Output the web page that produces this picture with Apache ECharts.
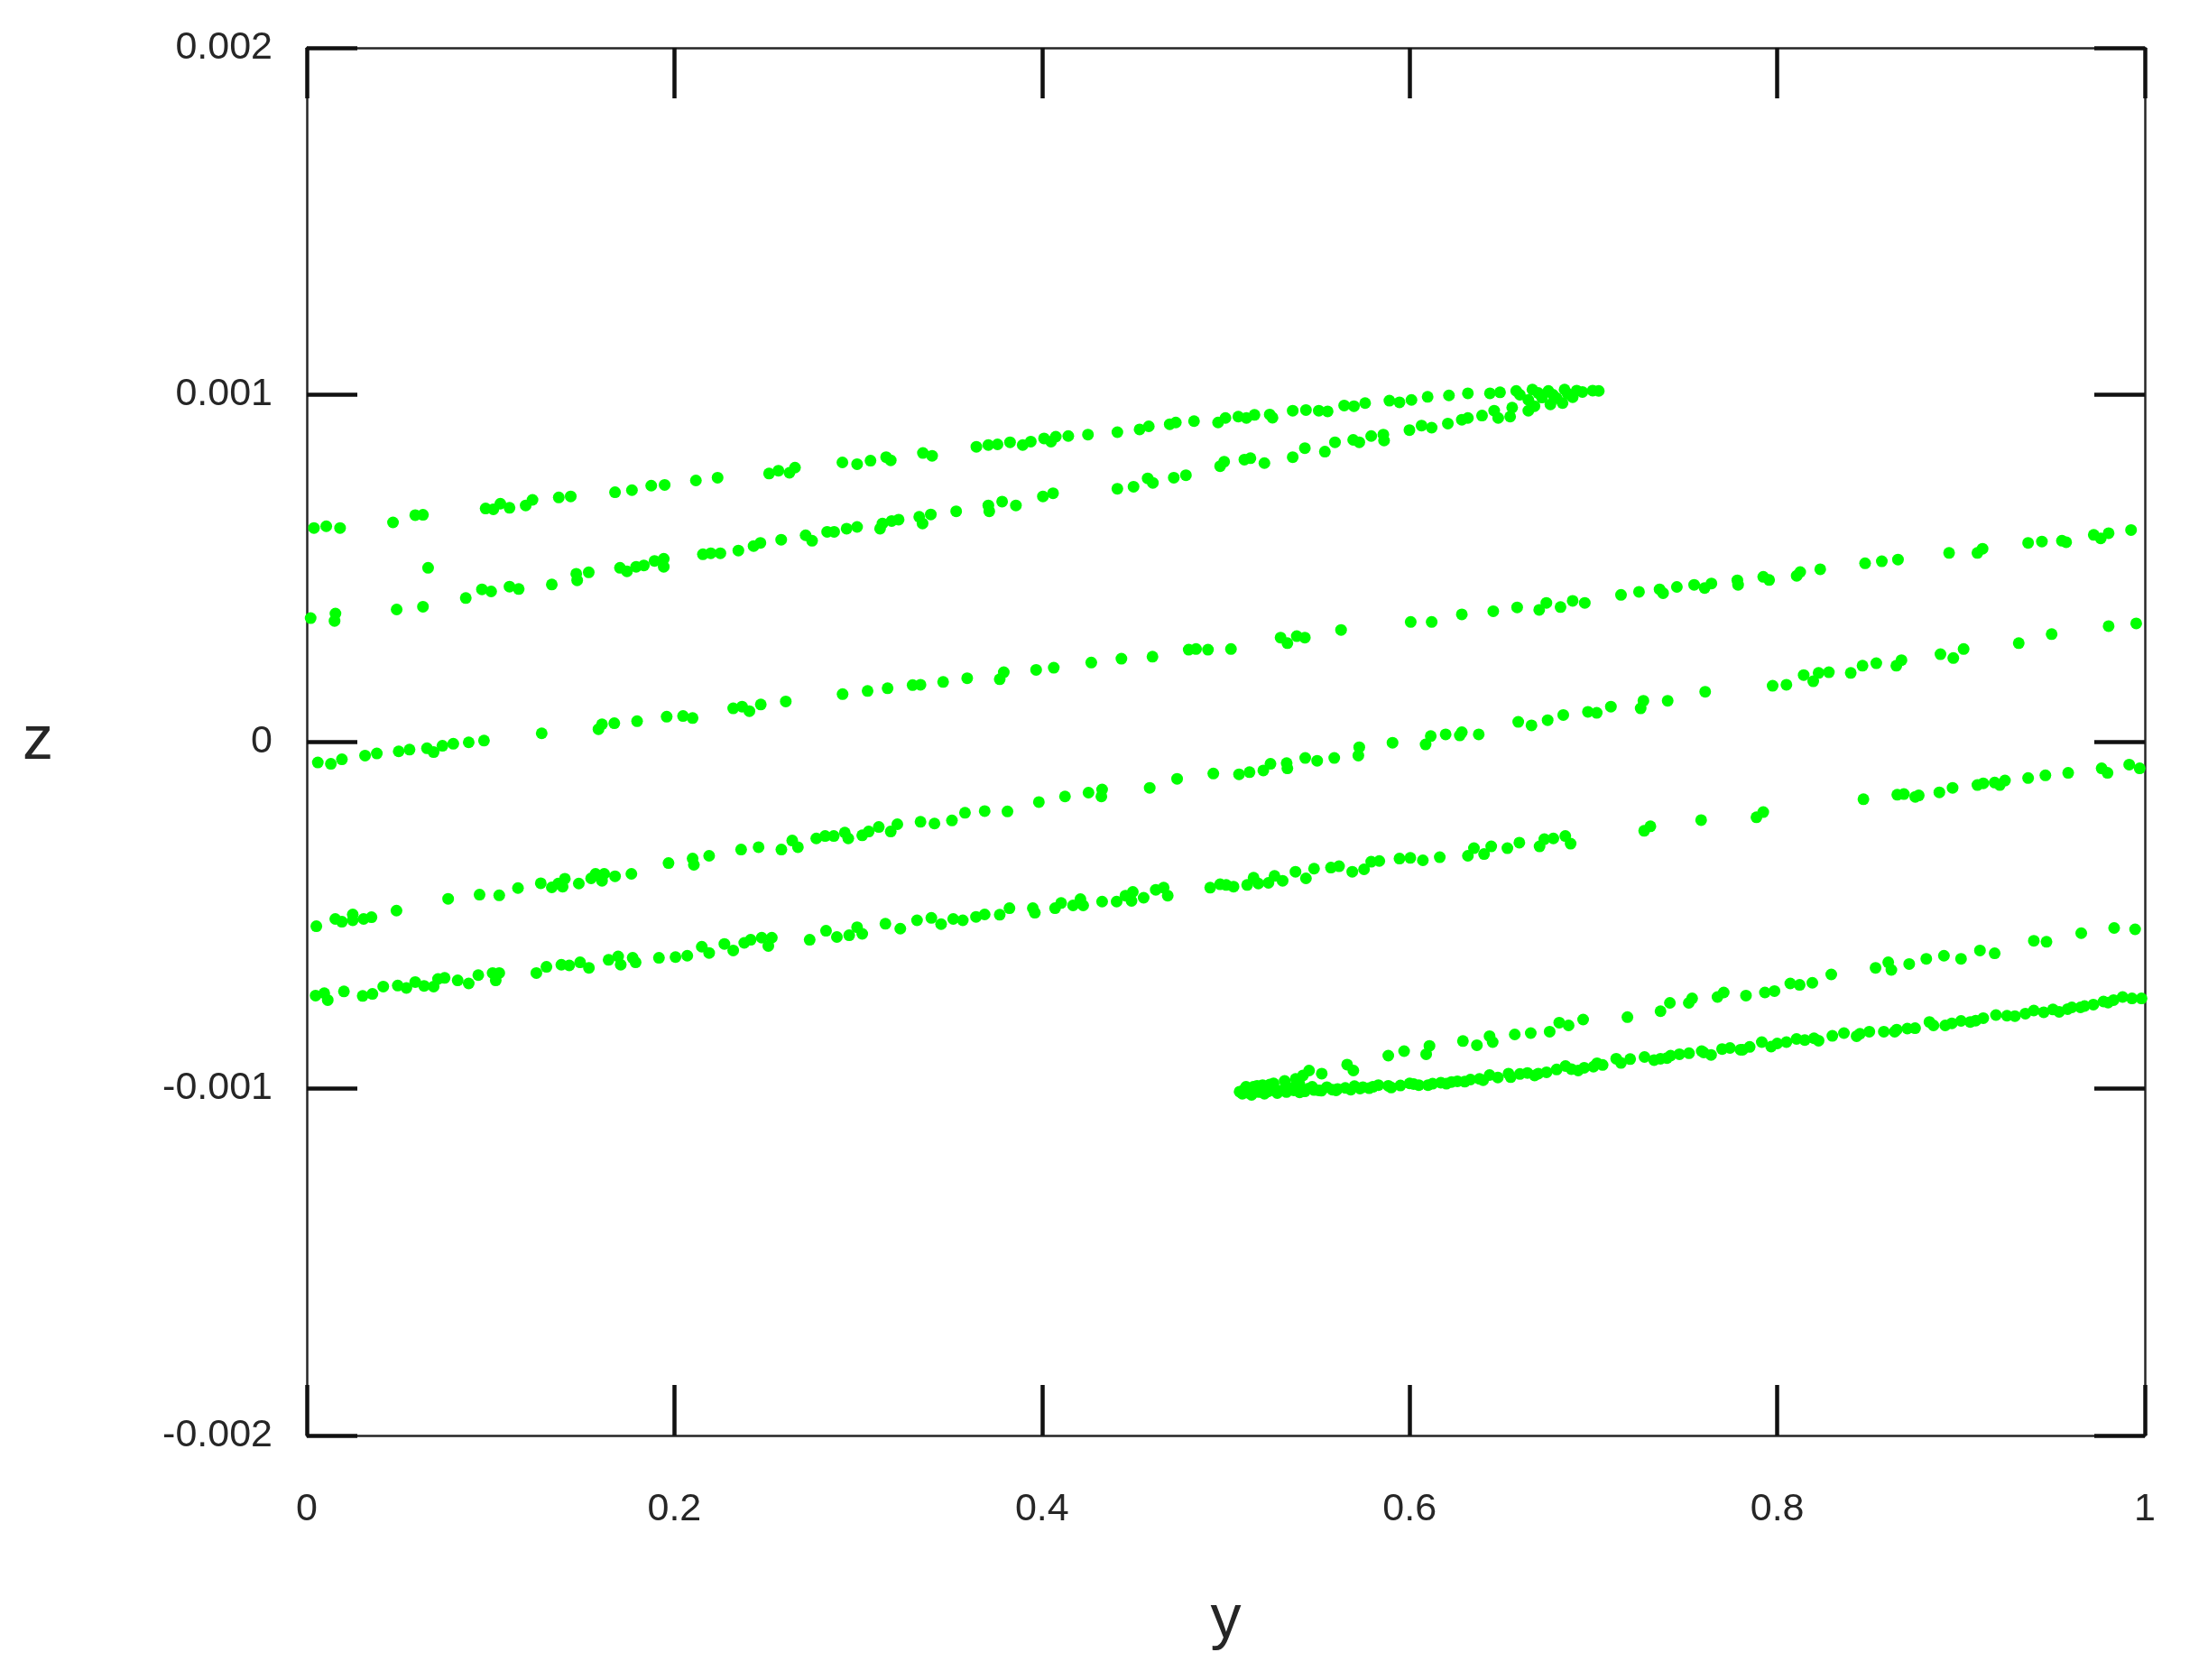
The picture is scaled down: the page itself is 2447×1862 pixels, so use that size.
<!DOCTYPE html>
<html>
<head>
<meta charset="utf-8">
<script src="https://cdn.jsdelivr.net/npm/echarts/dist/echarts.min.js"></script>
<style>
html,body{margin:0;padding:0;background:#ffffff;}
#chart{width:2447px;height:1862px;}
</style>
</head>
<body>
<div id="chart"></div>
<script>
// Axis ticks
const yTicksHoriz = [0, 0.2, 0.4, 0.6, 0.8, 1];
const zTicks = [-0.002, -0.001, 0, 0.001, 0.002];

// Upper branch of the top pair (y, z)
const bandA = [
[0.0039,0.616e-3],[0.0106,0.621e-3],[0.0181,0.616e-3],[0.0469,0.632e-3],[0.0590,0.653e-3],[0.0632,0.654e-3],
[0.0973,0.672e-3],[0.1015,0.670e-3],[0.1053,0.686e-3],[0.1103,0.674e-3],[0.1191,0.681e-3],[0.1228,0.697e-3],
[0.1371,0.704e-3],[0.1436,0.707e-3],[0.1677,0.719e-3],[0.1769,0.725e-3],[0.1874,0.738e-3],[0.1947,0.740e-3],
[0.2117,0.753e-3],[0.2235,0.761e-3],[0.2515,0.773e-3],[0.2566,0.781e-3],[0.2626,0.775e-3],[0.2656,0.790e-3],
[0.2914,0.805e-3],[0.2994,0.800e-3],[0.3067,0.810e-3],[0.3152,0.820e-3],[0.3177,0.811e-3],[0.3352,0.832e-3],
[0.3402,0.824e-3],[0.3643,0.850e-3],[0.3708,0.855e-3],[0.3758,0.857e-3],[0.3826,0.863e-3],[0.3895,0.855e-3],
[0.3939,0.865e-3],[0.4011,0.874e-3],[0.4049,0.865e-3],[0.4075,0.879e-3],[0.4143,0.881e-3],[0.4250,0.885e-3],
[0.4410,0.892e-3],[0.4531,0.900e-3],[0.4581,0.909e-3],[0.4695,0.915e-3],[0.4728,0.920e-3],[0.4827,0.924e-3],
[0.4958,0.920e-3],[0.4998,0.933e-3],[0.5068,0.937e-3],[0.5112,0.933e-3],[0.5156,0.942e-3],[0.5239,0.943e-3],
[0.5254,0.934e-3],[0.5364,0.954e-3],[0.5436,0.956e-3],[0.5506,0.954e-3],[0.5554,0.952e-3],[0.5644,0.969e-3],
[0.5697,0.967e-3],[0.5758,0.976e-3],[0.5890,0.983e-3],[0.5945,0.978e-3],[0.6010,0.985e-3],[0.6098,0.994e-3],
[0.6214,0.998e-3],[0.6317,1.004e-3],[0.6437,1.004e-3],[0.6492,1.007e-3],[0.6580,1.011e-3],[0.6668,1.015e-3],
[0.6755,1.011e-3],[0.6843,1.015e-3],[0.6909,1.012e-3],[0.6996,1.012e-3],[0.7029,1.011e-3],
[0.6600,1.000e-3],[0.6700,1.005e-3],[0.6780,1.000e-3],[0.6860,1.003e-3],[0.6940,1.008e-3],[0.6720,0.992e-3],[0.6800,0.990e-3]
];

// Lower branch of the top pair
const bandB = [
[0.0021,0.356e-3],[0.0156,0.369e-3],[0.0151,0.348e-3],[0.0489,0.381e-3],[0.0632,0.389e-3],[0.0660,0.501e-3],
[0.0865,0.414e-3],[0.0953,0.439e-3],[0.1003,0.433e-3],[0.1103,0.447e-3],[0.1153,0.440e-3],[0.1333,0.453e-3],
[0.1466,0.484e-3],[0.1471,0.465e-3],[0.1534,0.488e-3],[0.1704,0.501e-3],[0.1742,0.491e-3],[0.1792,0.504e-3],
[0.1834,0.508e-3],[0.1892,0.521e-3],[0.1942,0.527e-3],[0.1942,0.504e-3],[0.2155,0.540e-3],[0.2198,0.543e-3],
[0.2250,0.543e-3],[0.2348,0.551e-3],[0.2431,0.564e-3],[0.2468,0.573e-3],[0.2581,0.582e-3],[0.2714,0.595e-3],
[0.2749,0.579e-3],[0.2831,0.605e-3],[0.2869,0.605e-3],[0.2937,0.614e-3],[0.2994,0.619e-3],[0.3119,0.614e-3],
[0.3132,0.629e-3],[0.3182,0.636e-3],[0.3220,0.640e-3],[0.3332,0.648e-3],[0.3350,0.629e-3],[0.3395,0.655e-3],
[0.3533,0.664e-3],[0.3708,0.681e-3],[0.3713,0.664e-3],[0.3783,0.692e-3],[0.3858,0.681e-3],
[0.4005,0.707e-3],[0.4060,0.716e-3],[0.4410,0.729e-3],[0.4498,0.735e-3],[0.4575,0.759e-3],[0.4603,0.746e-3],
[0.4717,0.761e-3],[0.4783,0.768e-3],[0.4969,0.794e-3],[0.4991,0.807e-3],[0.5101,0.813e-3],[0.5134,0.817e-3],
[0.5210,0.803e-3],[0.5364,0.820e-3],[0.5430,0.846e-3],[0.5539,0.836e-3],[0.5594,0.863e-3],[0.5693,0.870e-3],
[0.5726,0.863e-3],[0.5791,0.881e-3],[0.5857,0.885e-3],[0.5861,0.868e-3],[0.5999,0.898e-3],[0.6065,0.911e-3],
[0.6120,0.905e-3],[0.6208,0.917e-3],[0.6284,0.928e-3],[0.6317,0.933e-3],[0.6394,0.940e-3],[0.6460,0.954e-3],
[0.6482,0.933e-3],[0.6558,0.963e-3],[0.6547,0.937e-3],[0.6646,0.954e-3],[0.6679,0.967e-3],[0.6766,0.972e-3],
[0.6832,0.976e-3],[0.6887,0.993e-3],[0.6646,0.985e-3]
];

// Long middle line
const bandC = [
[0.0060,-0.060e-3],[0.0131,-0.064e-3],[0.0191,-0.051e-3],[0.0317,-0.040e-3],[0.0381,-0.034e-3],[0.0500,-0.028e-3],
[0.0559,-0.023e-3],[0.0654,-0.019e-3],[0.0690,-0.030e-3],[0.0738,-0.012e-3],[0.0797,-0.006e-3],[0.0881,-0.002e-3],
[0.0964,0.003e-3],[0.1278,0.024e-3],[0.1587,0.036e-3],[0.1606,0.050e-3],[0.1673,0.053e-3],[0.1797,0.059e-3],
[0.1958,0.072e-3],[0.2047,0.074e-3],[0.2099,0.068e-3],[0.2320,0.096e-3],[0.2368,0.101e-3],[0.2408,0.088e-3],
[0.2470,0.107e-3],[0.2606,0.116e-3],[0.2915,0.137e-3],[0.3051,0.146e-3],[0.3160,0.154e-3],[0.3296,0.163e-3],
[0.3339,0.164e-3],[0.3462,0.172e-3],[0.3593,0.183e-3],[0.3770,0.180e-3],[0.3792,0.200e-3],[0.3968,0.207e-3],
[0.4064,0.213e-3],[0.4268,0.228e-3],[0.4432,0.239e-3],[0.4601,0.245e-3],[0.4798,0.265e-3],[0.4838,0.267e-3],
[0.4903,0.265e-3],[0.5028,0.267e-3],[0.5298,0.300e-3],[0.5335,0.284e-3],[0.5386,0.304e-3],[0.5430,0.300e-3],
[0.5627,0.322e-3],[0.6006,0.345e-3],[0.6120,0.345e-3],[0.6284,0.367e-3],[0.6455,0.376e-3],[0.6585,0.387e-3],
[0.6705,0.380e-3],[0.6744,0.400e-3],[0.6821,0.388e-3],[0.6887,0.406e-3],[0.6953,0.400e-3],[0.7150,0.423e-3],
[0.7248,0.432e-3],[0.7360,0.439e-3],[0.7379,0.428e-3],[0.7454,0.446e-3],[0.7548,0.452e-3],[0.7605,0.443e-3],
[0.7642,0.456e-3],[0.7783,0.465e-3],[0.7787,0.452e-3],[0.7924,0.475e-3],[0.7956,0.466e-3],[0.8106,0.478e-3],
[0.8125,0.489e-3],[0.8234,0.497e-3],[0.8478,0.514e-3],[0.8569,0.520e-3],[0.8657,0.525e-3],[0.8935,0.544e-3],
[0.9089,0.544e-3],[0.9117,0.556e-3],[0.9365,0.573e-3],[0.9440,0.577e-3],[0.9549,0.579e-3],[0.9572,0.575e-3],
[0.9722,0.596e-3],[0.9760,0.586e-3],[0.9803,0.601e-3],[0.9925,0.610e-3]
];

// Second long line
const bandD = [
[0.0052,-0.532e-3],[0.0155,-0.511e-3],[0.0191,-0.519e-3],[0.0250,-0.498e-3],[0.0250,-0.515e-3],[0.0309,-0.511e-3],
[0.0352,-0.506e-3],[0.0488,-0.487e-3],[0.0769,-0.453e-3],[0.0940,-0.441e-3],[0.1047,-0.443e-3],[0.1149,-0.422e-3],
[0.1273,-0.408e-3],[0.1333,-0.420e-3],[0.1368,-0.409e-3],[0.1404,-0.395e-3],[0.1392,-0.418e-3],[0.1480,-0.409e-3],
[0.1547,-0.394e-3],[0.1571,-0.381e-3],[0.1606,-0.401e-3],[0.1618,-0.381e-3],[0.1677,-0.388e-3],[0.1766,-0.381e-3],
[0.1968,-0.350e-3],[0.2099,-0.337e-3],[0.2106,-0.355e-3],[0.2189,-0.329e-3],[0.2363,-0.311e-3],[0.2458,-0.304e-3],
[0.2582,-0.311e-3],[0.2641,-0.285e-3],[0.2672,-0.304e-3],[0.2772,-0.279e-3],[0.2820,-0.272e-3],[0.2867,-0.272e-3],
[0.2927,-0.262e-3],[0.2946,-0.279e-3],[0.3022,-0.270e-3],[0.3057,-0.259e-3],[0.3112,-0.246e-3],[0.3177,-0.259e-3],
[0.3213,-0.238e-3],[0.3339,-0.231e-3],[0.3415,-0.236e-3],[0.3510,-0.227e-3],[0.3581,-0.205e-3],[0.3688,-0.200e-3],
[0.3812,-0.201e-3],[0.3983,-0.174e-3],[0.4125,-0.158e-3],[0.4253,-0.147e-3],[0.4327,-0.138e-3],[0.4323,-0.158e-3],
[0.4586,-0.133e-3],[0.4735,-0.107e-3],[0.4932,-0.092e-3],[0.5072,-0.094e-3],[0.5129,-0.088e-3],[0.5204,-0.083e-3],
[0.5243,-0.064e-3],[0.5331,-0.062e-3],[0.5335,-0.077e-3],[0.5432,-0.047e-3],[0.5497,-0.055e-3],[0.5590,-0.047e-3],
[0.5726,-0.016e-3],[0.5721,-0.040e-3],[0.5907,-0.003e-3],[0.6087,-0.008e-3],[0.6115,0.016e-3],[0.6196,0.021e-3],
[0.6273,0.018e-3],[0.6284,0.027e-3],[0.6376,0.021e-3],[0.6591,0.057e-3],[0.6663,0.047e-3],[0.6751,0.062e-3],
[0.6836,0.077e-3],[0.6970,0.086e-3],[0.7018,0.083e-3],[0.7095,0.101e-3],[0.7257,0.096e-3],[0.7272,0.118e-3],
[0.7404,0.118e-3],[0.7608,0.144e-3],[0.7975,0.161e-3],[0.8050,0.164e-3],[0.8144,0.192e-3],[0.8196,0.174e-3],
[0.8225,0.198e-3],[0.8281,0.200e-3],[0.8400,0.198e-3],[0.8464,0.219e-3],[0.8539,0.226e-3],[0.8648,0.219e-3],
[0.8676,0.235e-3],[0.8888,0.252e-3],[0.8958,0.241e-3],[0.9014,0.267e-3],[0.9314,0.284e-3],[0.9493,0.310e-3],
[0.9803,0.333e-3],[0.9953,0.341e-3]
];

// Third long line
const bandE = [
[0.0048,-0.732e-3],[0.0095,-0.725e-3],[0.0114,-0.745e-3],[0.0202,-0.720e-3],[0.0304,-0.733e-3],[0.0357,-0.727e-3],
[0.0416,-0.706e-3],[0.0495,-0.703e-3],[0.0542,-0.710e-3],[0.0590,-0.693e-3],[0.0638,-0.704e-3],[0.0690,-0.706e-3],
[0.0714,-0.684e-3],[0.0750,-0.681e-3],[0.0821,-0.688e-3],[0.0881,-0.697e-3],[0.0933,-0.673e-3],[0.1011,-0.667e-3],
[0.1028,-0.688e-3],[0.1047,-0.667e-3],[0.1249,-0.667e-3],[0.1304,-0.649e-3],[0.1385,-0.643e-3],[0.1428,-0.645e-3],
[0.1487,-0.636e-3],[0.1535,-0.652e-3],[0.1642,-0.629e-3],[0.1694,-0.619e-3],[0.1708,-0.643e-3],[0.1773,-0.623e-3],
[0.1789,-0.636e-3],[0.1916,-0.623e-3],[0.2006,-0.621e-3],[0.2070,-0.617e-3],[0.2149,-0.591e-3],[0.2189,-0.609e-3],
[0.2272,-0.583e-3],[0.2320,-0.602e-3],[0.2380,-0.580e-3],[0.2415,-0.571e-3],[0.2475,-0.565e-3],[0.2511,-0.589e-3],
[0.2530,-0.565e-3],[0.2736,-0.571e-3],[0.2825,-0.545e-3],[0.2884,-0.563e-3],[0.2951,-0.558e-3],[0.2994,-0.535e-3],
[0.3022,-0.554e-3],[0.3148,-0.525e-3],[0.3229,-0.539e-3],[0.3320,-0.515e-3],[0.3398,-0.508e-3],[0.3451,-0.526e-3],
[0.3517,-0.511e-3],[0.3569,-0.515e-3],[0.3641,-0.505e-3],[0.3688,-0.498e-3],[0.3770,-0.499e-3],[0.3823,-0.480e-3],
[0.3950,-0.480e-3],[0.3961,-0.493e-3],[0.4071,-0.480e-3],[0.4104,-0.465e-3],[0.4169,-0.472e-3],[0.4209,-0.454e-3],
[0.4224,-0.472e-3],[0.4327,-0.461e-3],[0.4406,-0.461e-3],[0.4454,-0.444e-3],[0.4494,-0.433e-3],[0.4487,-0.459e-3],
[0.4553,-0.450e-3],[0.4619,-0.427e-3],[0.4662,-0.421e-3],[0.4684,-0.444e-3],[0.4915,-0.421e-3],[0.4969,-0.411e-3],
[0.5002,-0.413e-3],[0.5042,-0.418e-3],[0.5116,-0.413e-3],[0.5151,-0.392e-3],[0.5177,-0.409e-3],[0.5232,-0.407e-3],
[0.5265,-0.387e-3],[0.5309,-0.401e-3],[0.5379,-0.375e-3],[0.5436,-0.394e-3],[0.5480,-0.366e-3],[0.5572,-0.363e-3],
[0.5616,-0.359e-3],[0.5688,-0.375e-3],[0.5752,-0.368e-3],[0.5791,-0.346e-3],[0.5835,-0.344e-3],[0.5945,-0.337e-3],
[0.6004,-0.335e-3],[0.6072,-0.342e-3],[0.6164,-0.333e-3],[0.6317,-0.329e-3],[0.6350,-0.307e-3],[0.6405,-0.324e-3],
[0.6444,-0.302e-3],[0.6532,-0.307e-3],[0.6597,-0.291e-3],[0.6707,-0.302e-3],[0.6733,-0.281e-3],[0.6782,-0.279e-3],
[0.6847,-0.272e-3],[0.6876,-0.294e-3],[0.7276,-0.257e-3],[0.7310,-0.244e-3],[0.7586,-0.226e-3],[0.7887,-0.218e-3],
[0.7924,-0.203e-3],[0.8469,-0.166e-3],[0.8653,-0.153e-3],[0.8689,-0.151e-3],[0.8751,-0.159e-3],[0.8770,-0.155e-3],
[0.8882,-0.146e-3],[0.8954,-0.133e-3],[0.9089,-0.125e-3],[0.9121,-0.120e-3],[0.9183,-0.118e-3],[0.9211,-0.125e-3],
[0.9239,-0.112e-3],[0.9365,-0.105e-3],[0.9459,-0.097e-3],[0.9583,-0.090e-3],[0.9765,-0.077e-3],[0.9797,-0.090e-3],
[0.9915,-0.066e-3],[0.9972,-0.077e-3]
];

// Upper branch of the bottom-right pair
const bandG = [
[0.5453,-0.948e-3],[0.5522,-0.957e-3],[0.5660,-0.931e-3],[0.5694,-0.948e-3],[0.5884,-0.905e-3],[0.5970,-0.892e-3],
[0.6090,-0.901e-3],[0.6108,-0.877e-3],[0.6290,-0.863e-3],[0.6366,-0.875e-3],[0.6435,-0.849e-3],[0.6452,-0.866e-3],
[0.6572,-0.844e-3],[0.6659,-0.840e-3],[0.6762,-0.836e-3],[0.6814,-0.810e-3],[0.6865,-0.818e-3],[0.6944,-0.801e-3],
[0.7185,-0.794e-3],[0.7365,-0.777e-3],[0.7416,-0.753e-3],[0.7519,-0.753e-3],[0.7537,-0.740e-3],[0.7675,-0.736e-3],
[0.7709,-0.723e-3],[0.7830,-0.732e-3],[0.7933,-0.723e-3],[0.7985,-0.719e-3],[0.8071,-0.697e-3],[0.8122,-0.701e-3],
[0.8191,-0.695e-3],[0.8294,-0.671e-3],[0.8535,-0.652e-3],[0.8621,-0.658e-3],[0.8604,-0.636e-3],[0.8718,-0.641e-3],
[0.8811,-0.626e-3],[0.8907,-0.617e-3],[0.9000,-0.626e-3],[0.9103,-0.602e-3],[0.9183,-0.610e-3],[0.9396,-0.574e-3],
[0.9465,-0.577e-3],[0.9654,-0.552e-3],[0.9833,-0.537e-3],[0.9947,-0.541e-3],
[0.5150,-0.995e-3],[0.5200,-0.990e-3],[0.5260,-0.985e-3],[0.5320,-0.978e-3],[0.5380,-0.972e-3],[0.5420,-0.962e-3]
];

// Lower branch of the bottom-right pair
const bandF = [
[0.5075,-1.009e-3],[0.5161,-1.005e-3],[0.5264,-1.001e-3],[0.5402,-1.011e-3],[0.5505,-1.005e-3],[0.5608,-1.001e-3],
[0.5746,-0.996e-3],[0.5884,-0.992e-3],[0.6022,-0.987e-3],[0.6125,-0.986e-3],[0.6228,-0.981e-3],[0.6331,-0.974e-3],
[0.6435,-0.961e-3],[0.6538,-0.957e-3],[0.6641,-0.955e-3],[0.6745,-0.953e-3],[0.6848,-0.935e-3],[0.6917,-0.948e-3],
[0.7020,-0.927e-3],[0.7124,-0.914e-3],[0.7278,-0.909e-3],[0.7365,-0.914e-3],[0.7468,-0.901e-3],[0.7589,-0.892e-3],
[0.7640,-0.903e-3],[0.7743,-0.883e-3],[0.7812,-0.888e-3],[0.7916,-0.866e-3],[0.7967,-0.879e-3],[0.8105,-0.857e-3],
[0.8225,-0.862e-3],[0.8363,-0.840e-3],[0.8432,-0.849e-3],[0.8501,-0.836e-3],[0.8639,-0.836e-3],[0.8708,-0.827e-3],
[0.8828,-0.808e-3],[0.8914,-0.818e-3],[0.9000,-0.805e-3],[0.9121,-0.797e-3],[0.9190,-0.788e-3],[0.9293,-0.791e-3],
[0.9396,-0.775e-3],[0.9534,-0.779e-3],[0.9603,-0.766e-3],[0.9672,-0.762e-3],[0.9775,-0.749e-3],[0.9879,-0.736e-3],
[0.9982,-0.740e-3],
[0.5100,-1.003e-3],[0.5120,-1.012e-3],[0.5180,-1.010e-3],[0.5230,-1.008e-3],[0.5300,-1.006e-3],[0.5350,-0.998e-3],
[0.5450,-1.000e-3],[0.5480,-1.004e-3],[0.5550,-0.996e-3],[0.5580,-1.003e-3],[0.5650,-0.998e-3],[0.5700,-0.993e-3],
[0.5780,-0.999e-3],[0.5830,-0.990e-3],[0.5950,-0.991e-3],[0.6000,-0.985e-3],[0.6050,-0.990e-3],[0.6170,-0.983e-3],
[0.6260,-0.979e-3],[0.6380,-0.972e-3],[0.6480,-0.968e-3],[0.6600,-0.958e-3],[0.6680,-0.962e-3],[0.6800,-0.945e-3],
[0.6950,-0.940e-3],[0.7050,-0.932e-3],[0.7200,-0.915e-3],[0.7330,-0.918e-3],[0.7420,-0.905e-3],[0.7520,-0.898e-3],
[0.7700,-0.886e-3],[0.7850,-0.880e-3],[0.8000,-0.870e-3],[0.8150,-0.860e-3],[0.8300,-0.848e-3],[0.8580,-0.836e-3],
[0.8750,-0.826e-3],[0.8950,-0.812e-3],[0.9080,-0.804e-3],[0.9250,-0.790e-3],[0.9450,-0.780e-3],[0.9580,-0.771e-3],
[0.9720,-0.758e-3],[0.9830,-0.745e-3],[0.9930,-0.740e-3],
[0.5090,-1.015e-3],[0.5110,-0.995e-3],[0.5140,-1.018e-3],[0.5170,-0.992e-3],[0.5210,-1.015e-3],[0.5240,-0.988e-3],
[0.5280,-1.013e-3],[0.5330,-1.010e-3],[0.5370,-1.005e-3],[0.5400,-0.985e-3],[0.5430,-1.008e-3],[0.5470,-0.995e-3],
[0.5520,-1.006e-3],[0.5600,-1.005e-3],[0.5680,-1.003e-3],[0.5730,-1.000e-3],[0.5800,-0.995e-3],[0.5900,-0.997e-3],
[0.6100,-0.990e-3],[0.6200,-0.986e-3],[0.6300,-0.980e-3],[0.6400,-0.976e-3],[0.6550,-0.967e-3],[0.6700,-0.957e-3],
[0.6880,-0.944e-3],[0.7000,-0.937e-3],[0.7150,-0.926e-3],[0.7400,-0.912e-3],[0.7600,-0.896e-3],[0.7800,-0.888e-3],
[0.8050,-0.866e-3],[0.8200,-0.855e-3],[0.8450,-0.842e-3],[0.8650,-0.830e-3],[0.8850,-0.818e-3],[0.9050,-0.808e-3],
[0.9350,-0.784e-3],[0.9500,-0.772e-3],[0.9650,-0.766e-3],[0.9800,-0.752e-3]
];

const FONT = '"Liberation Sans", Arial, sans-serif';
const TEXT = '#262626';
const GREEN = '#00ff00';

const lineStyleAxis = { color: '#262626', width: 2.5 };
const tickStyle = { inside: true, length: 56, lineStyle: { color: '#111111', width: 4.5 } };

const chart = echarts.init(document.getElementById('chart'), null, { renderer: 'canvas' });

function scatter(name, data) {
  return {
    name: name, type: 'scatter', data: data,
    xAxisIndex: 0, yAxisIndex: 0,
    symbol: 'circle', symbolSize: 13,
    itemStyle: { color: GREEN, opacity: 1 },
    emphasis: { disabled: true },
    silent: true
  };
}

chart.setOption({
  animation: false,
  backgroundColor: '#ffffff',
  grid: { left: 340, top: 53, width: 2037, height: 1538, containLabel: false },
  xAxis: [
    {
      type: 'value', position: 'bottom', min: yTicksHoriz[0], max: yTicksHoriz[yTicksHoriz.length - 1], interval: 0.2,
      name: 'y', nameLocation: 'middle', nameGap: 171,
      nameTextStyle: { fontSize: 68, color: TEXT, fontFamily: FONT },
      axisLine: { show: true, onZero: false, lineStyle: lineStyleAxis },
      axisTick: tickStyle,
      axisLabel: { margin: 61, fontSize: 43, color: TEXT, fontFamily: FONT },
      splitLine: { show: false }
    },
    {
      type: 'value', position: 'top', min: 0, max: 1, interval: 0.2,
      axisLine: { show: true, onZero: false, lineStyle: lineStyleAxis },
      axisTick: tickStyle,
      axisLabel: { show: false },
      splitLine: { show: false }
    }
  ],
  yAxis: [
    {
      type: 'value', position: 'left', min: zTicks[0], max: zTicks[zTicks.length - 1], interval: 0.001,
      name: 'z', nameLocation: 'middle', nameGap: 281, nameRotate: 0,
      nameTextStyle: { fontSize: 68, color: TEXT, fontFamily: FONT },
      axisLine: { show: true, onZero: false, lineStyle: lineStyleAxis },
      axisTick: tickStyle,
      axisLabel: { margin: 38, fontSize: 43, color: TEXT, fontFamily: FONT },
      splitLine: { show: false }
    },
    {
      type: 'value', position: 'right', min: -0.002, max: 0.002, interval: 0.001,
      axisLine: { show: true, onZero: false, lineStyle: lineStyleAxis },
      axisTick: tickStyle,
      axisLabel: { show: false },
      splitLine: { show: false }
    }
  ],
  series: [
    scatter('A', bandA), scatter('B', bandB), scatter('C', bandC),
    scatter('D', bandD), scatter('E', bandE), scatter('F', bandF), scatter('G', bandG)
  ]
});
</script>
</body>
</html>
